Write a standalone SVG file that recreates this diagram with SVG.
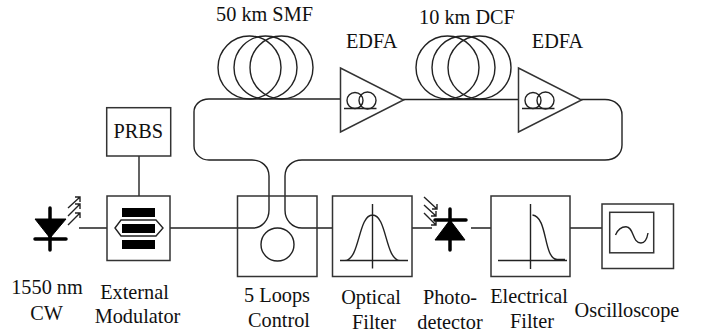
<svg xmlns="http://www.w3.org/2000/svg" width="707" height="333" viewBox="0 0 707 333">
<defs>
<style>
.l{fill:none;stroke:#222;stroke-width:1.4}
.b{fill:#fff;stroke:#333;stroke-width:1.5}
.d{fill:#000;stroke:#000}
.t{font-family:"Liberation Serif","Times New Roman",serif;font-size:20.3px;fill:#111;text-anchor:middle}
</style>
<g id="coil"><circle cx="0" cy="0" r="31.5" class="l"/><circle cx="16" cy="0" r="31.5" class="l"/><circle cx="32" cy="0" r="31.5" class="l"/></g>
<g id="amp"><path d="M0 -32V32L63 0Z" class="b"/><circle cx="14.500" cy="0.500" r="8" class="l"/><circle cx="27" cy="0.500" r="8.500" class="l"/><path d="M3.500 8.500H36" class="l"/></g>
</defs>
<g id="connectors">
<path class="l" d="M79 228H107M170 228H253C262 228 269 220 269 210V176C269 167 262 160 252 160H209C200 160 194 153 194 146V112C194 105 200 99 209 99H341M403 99.500H519M581 99.500H605C615 99.500 622 106 622 115V145C622 154 615 160 605 160H302C292 160 285 167 285 176V210C285 220 292 228 302 228H333M412 228H432M471 228H491M570 228H602M139 156V196"/>
</g>
<g id="laser">
<path class="d" d="M35 219H66L50 238Z"/><path d="M50 208V250M35 239H66" fill="none" stroke="#000" stroke-width="3.500" stroke-linecap="round"/>
<path class="l" d="M68 208L80 197M75 197H80V202M68 216L80 204M75 204H80V209M68 225L80 213M75 213H80V218" stroke-width="1.100"/>
</g>
<g id="prbs"><rect class="b" x="106.700" y="107.700" width="64" height="48.300"/><text class="t" x="138.300" y="138.300">PRBS</text></g>
<g id="modulator"><rect class="b" x="107" y="196" width="63" height="64.500"/>
<rect x="122" y="208" width="33" height="9"/><rect x="122" y="224" width="33" height="9"/><rect x="122" y="240" width="33" height="9"/>
<path class="l" d="M115 228L121 220H156L163 228L156 236H121Z"/></g>
<g id="loops"><rect x="237.500" y="196" width="79.500" height="80.500" fill="none" stroke="#333" stroke-width="1.500"/><circle class="l" cx="277.500" cy="244.500" r="16.500"/></g>
<g id="smf"><use href="#coil" x="249.500" y="67.500"/></g>
<g id="edfa1"><use href="#amp" x="340.500" y="100"/></g>
<g id="dcf"><use href="#coil" x="447.500" y="67.500"/></g>
<g id="edfa2"><use href="#amp" x="518.500" y="100"/></g>
<g id="optical-filter"><rect class="b" x="332.500" y="196" width="79.500" height="80.500"/>
<path class="l" d="M372.500 204V268.500M340 260.500H408M345 260.500C360 260 358 215 372.500 215C387 215 385 260 400 260.500"/></g>
<g id="photodetector">
<path class="d" d="M435 240H465L450 220Z"/><path d="M450 209V250M435 220H466" fill="none" stroke="#000" stroke-width="3.500" stroke-linecap="round"/>
<path class="l" d="M424 197L437 209M432 209H437V204M424 205L436 216M431 216H436V211M424 213L436 225M431 225H436V220" stroke-width="1.100"/>
</g>
<g id="electrical-filter"><rect class="b" x="491" y="196" width="79" height="80.500"/>
<path class="l" d="M530.500 204V269M498 260.500H567M532.500 215C548 217 543 258 557 259.500H565"/></g>
<g id="oscilloscope"><rect class="b" x="602" y="204" width="71.500" height="64.500"/><rect class="b" x="609.700" y="212.300" width="44" height="40.500"/>
<path class="l" d="M615.500 235C618 229 622 226.700 626 226.700C634 226.700 632 243 641 243C645 243 647 239 648 233"/></g>
<g id="labels">
<text class="t" x="264.500" y="21">50 km SMF</text>
<text class="t" x="371.700" y="48">EDFA</text>
<text class="t" x="467" y="24">10 km DCF</text>
<text class="t" x="557.500" y="48">EDFA</text>
<text class="t" x="47" y="294">1550 nm</text><text class="t" x="46.500" y="320">CW</text>
<text class="t" x="134.500" y="299">External</text><text class="t" x="137.500" y="323">Modulator</text>
<text class="t" x="277" y="302">5 Loops</text><text class="t" x="279" y="327">Control</text>
<text class="t" x="371" y="304">Optical</text><text class="t" x="374" y="329">Filter</text>
<text class="t" x="450" y="304">Photo-</text><text class="t" x="450" y="329">detector</text>
<text class="t" x="529" y="303">Electrical</text><text class="t" x="532" y="328">Filter</text>
<text class="t" x="627" y="317">Oscilloscope</text>
</g>
</svg>
